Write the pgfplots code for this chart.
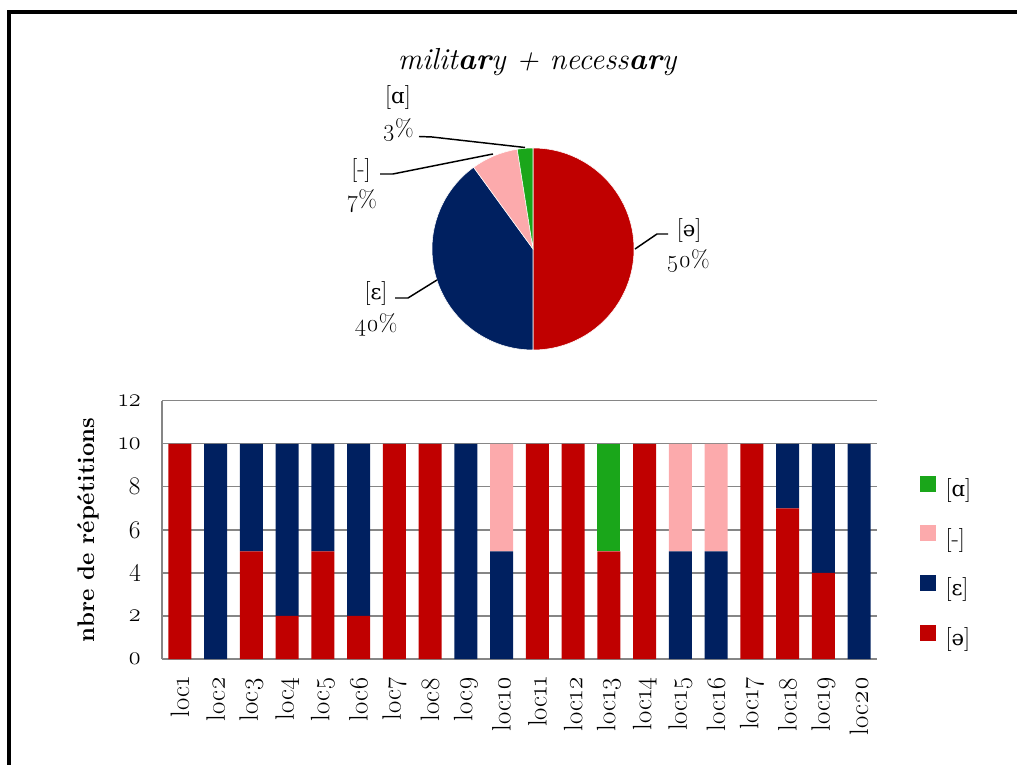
\documentclass[border=0pt]{standalone}
\usepackage{fontspec}
\setmainfont{Latin Modern Roman}[Numbers=OldStyle]
\newfontfamily\ipa{DejaVu Serif}[Scale=0.88]
\usepackage{pgfplots}
\pgfplotsset{compat=1.18}
\usepackage{pgfplotstable}

\definecolor{cred}{RGB}{192,0,0}
\definecolor{cnavy}{RGB}{0,32,96}
\definecolor{cpink}{RGB}{252,170,172}
\definecolor{cgreen}{RGB}{26,166,26}
\definecolor{cgrid}{RGB}{134,134,134}

\pgfplotstableread{
x schwa eps dash a
1 10 0 0 0
2 0 10 0 0
3 5 5 0 0
4 2 8 0 0
5 5 5 0 0
6 2 8 0 0
7 10 0 0 0
8 10 0 0 0
9 0 10 0 0
10 0 5 5 0
11 10 0 0 0
12 10 0 0 0
13 5 0 0 5
14 10 0 0 0
15 0 5 5 0
16 0 5 5 0
17 10 0 0 0
18 7 3 0 0
19 4 6 0 0
20 0 10 0 0
}\bars

% pie totals (counts out of 200)
\def\va{100}\def\vb{80}\def\vc{15}\def\vd{5}

\newcommand\lab{\fontsize{18}{21}\selectfont}
\newcommand\xlab{\fontsize{20}{23}\selectfont}
\newcommand\ylab{\fontsize{19}{22}\selectfont}

\begin{document}
\begin{tikzpicture}[x=0.75pt,y=0.75pt]
\useasboundingbox (0,0) rectangle (1017,764);
\draw[line width=3pt] (9,{764-770}) -- (9,{764-12}) -- (1025,{764-12});

\node[anchor=base, font=\itshape\fontsize{22.8}{26}\selectfont] at (537,{764-70}) {milit\textbf{ar}y + necess\textbf{ar}y};

% ---------- pie ----------
\begin{axis}[at={(399.75pt,386.25pt)}, anchor=center, hide axis, scale only axis,
  width=151.5pt, height=151.5pt, xmin=-1, xmax=1, ymin=-1, ymax=1, clip=false]
\pgfmathsetmacro\aA{90}
\pgfmathsetmacro\aB{90-\va*1.8}
\pgfmathsetmacro\aC{\aB-\vb*1.8}
\pgfmathsetmacro\aD{\aC-\vc*1.8}
\pgfmathsetmacro\aE{\aD-\vd*1.8}
\fill[cred, draw=white, line width=0.4pt] (axis cs:0,0) -- ++(\aA:75.75pt) arc[start angle=\aA, end angle=\aB, radius=75.75pt] -- cycle;
\fill[cnavy, draw=white, line width=0.4pt] (axis cs:0,0) -- ++(\aB:75.75pt) arc[start angle=\aB, end angle=\aC, radius=75.75pt] -- cycle;
\fill[cpink, draw=white, line width=0.4pt] (axis cs:0,0) -- ++(\aC:75.75pt) arc[start angle=\aC, end angle=\aD, radius=75.75pt] -- cycle;
\fill[cgreen, draw=white, line width=0.4pt] (axis cs:0,0) -- ++(\aD:75.75pt) arc[start angle=\aD, end angle=\aE, radius=75.75pt] -- cycle;
\end{axis}

% pie labels
\draw[line width=1.1pt] (419,{764-136.5}) -- (432,{764-137}) -- (525,{764-147.5});
\draw[line width=1.1pt] (380,{764-174}) -- (393,{764-174}) -- (493,{764-154});
\draw[line width=1.1pt] (668,{764-234}) -- (657,{764-234}) -- (635,{764-249});
\draw[line width=1.1pt] (395,{764-298}) -- (408,{764-298}) -- (437,{764-280});
\node[anchor=base, font=\lab] at (398,{764-104}) {[{\ipa ɑ}]};
\node[anchor=base, font=\lab] at (398,{764-137}) {3\%};
\node[anchor=base, font=\lab] at (361,{764-177}) {[-]};
\node[anchor=base, font=\lab] at (362,{764-208}) {7\%};
\node[anchor=base, font=\lab] at (689,{764-237}) {[{\ipa ə}]};
\node[anchor=base, font=\lab] at (688,{764-268}) {50\%};
\node[anchor=base, font=\lab] at (376,{764-300}) {[{\ipa ɛ}]};
\node[anchor=base, font=\lab] at (376,{764-332}) {40\%};

% ---------- bars ----------
\begin{axis}[at={(121.5pt,78.75pt)}, anchor=south west, scale only axis,
  width=536.25pt, height=193.7pt,
  ybar stacked, bar width=17.25pt,
  xmin=0.5, xmax=20.5, ymin=0, ymax=12,
  ytick={0,2,...,12}, xtick={1,...,20},
  xticklabels={loc1,loc2,loc3,loc4,loc5,loc6,loc7,loc8,loc9,loc10,loc11,loc12,loc13,loc14,loc15,loc16,loc17,loc18,loc19,loc20},
  ymajorgrids, grid style={cgrid, line width=1pt},
  axis x line*=bottom, axis y line*=left,
  axis line style={cgrid, line width=1pt, -},
  major tick length=0pt, tick style={draw=none},
  /pgf/number format/assume math mode=true,
  xticklabel style={font=\xlab, rotate=90, anchor=east},
  yticklabel style={font=\ylab},
  xticklabel shift=10pt, yticklabel shift=12pt,
  ylabel={nbre de répétitions},
  ylabel style={font=\bfseries\fontsize{18}{21}\selectfont, at={(axis description cs:-0.1035,0.5)}, anchor=center, rotate=0},
  legend style={at={(1.06,0.372)}, anchor=west, draw=none, fill=none, font=\lab, row sep=18pt, inner sep=0pt,
    /tikz/every odd column/.append style={column sep=5pt}},
  legend cell align=left,
  legend image code/.code={\fill[#1] (0pt,-2.25pt) rectangle (12pt,9.75pt);},
  reverse legend,
]
\addplot[fill=cred, draw=none] table[x=x, y=schwa]{\bars};
\addlegendentry{[{\ipa ə}]}
\addplot[fill=cnavy, draw=none] table[x=x, y=eps]{\bars};
\addlegendentry{[{\ipa ɛ}]}
\addplot[fill=cpink, draw=none] table[x=x, y=dash]{\bars};
\addlegendentry{[-]}
\addplot[fill=cgreen, draw=none] table[x=x, y=a]{\bars};
\addlegendentry{[{\ipa ɑ}]}
\end{axis}
\end{tikzpicture}
\end{document}
